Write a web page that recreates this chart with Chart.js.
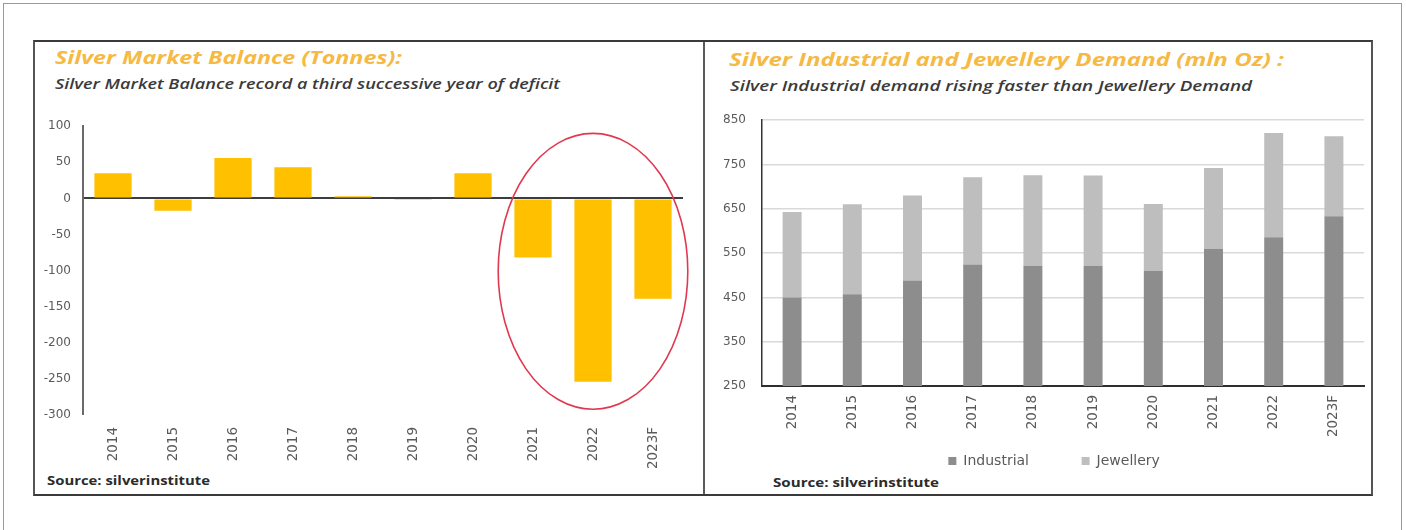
<!DOCTYPE html>
<html>
<head>
<meta charset="utf-8">
<script src="https://cdn.jsdelivr.net/npm/chart.js@4.4.1/dist/chart.umd.min.js"></script>
<style>
  html, body { margin: 0; padding: 0; background: #ffffff; }
  body { width: 1406px; height: 530px; position: relative; overflow: hidden; }
  .card { position: absolute; left: 3px; top: 3px; width: 1399px; height: 540px; border: 1px solid #9a9a9a; box-sizing: border-box; }
  .frame { position: absolute; left: 33px; top: 40px; width: 1340px; height: 456px; border: 2px solid #3a3a3a; border-left-color: #555; border-right-color: #555; box-sizing: border-box; }
  .divider { position: absolute; left: 703px; top: 42px; width: 2px; height: 452px; background: #5a5a5a; }
  .title { position: absolute; font-family: "Open Sans", sans-serif; font-style: italic; font-weight: 700; color: #f6b944; font-size: 18px; white-space: nowrap; transform-origin: 0 0; }
  .subtitle { position: absolute; font-family: "Open Sans", sans-serif; font-style: italic; font-weight: 600; color: #3a3a3a; font-size: 14px; white-space: nowrap; transform-origin: 0 0; }
  .source { position: absolute; font-family: "Open Sans", sans-serif; font-weight: 700; color: #2b2b2b; font-size: 13px; white-space: nowrap; transform-origin: 0 0; }
  canvas { position: absolute; }
</style>
</head>
<body>
<div class="card"></div>
<div class="frame"></div>
<div class="divider"></div>

<div class="title" data-w="347" style="left:55px; top:45px;">Silver Market Balance (Tonnes):</div>
<div class="subtitle" data-w="505" style="left:55px; top:74px;">Silver Market Balance record a third successive year of deficit</div>
<div class="source" data-w="163" style="left:47px; top:471px;">Source: silverinstitute</div>

<div class="title" data-w="555" style="left:729px; top:47px;">Silver Industrial and Jewellery Demand (mln Oz) :</div>
<div class="subtitle" data-w="522" style="left:730px; top:76px;">Silver Industrial demand rising faster than Jewellery Demand</div>
<div class="source" data-w="166" style="left:773px; top:473px;">Source: silverinstitute</div>

<canvas id="balance" width="665" height="366" style="left:40px; top:107px;"></canvas>
<canvas id="demand" width="680" height="381" style="left:712px; top:97px;"></canvas>

<script>
// Years shown on both charts
const years = ['2014', '2015', '2016', '2017', '2018', '2019', '2020', '2021', '2022', '2023F'];

// Silver market balance, tonnes
const marketBalance = [35, -17, 56, 43, 3, -1, 35, -82, -254, -139];
const balanceMin = -300;
const balanceMax = 100;
const balanceStep = 50;

// Demand, million ounces
const industrialDemand = [450, 457, 488, 524, 521, 521, 510, 560, 586, 633];
const jewelleryDemand = [193, 203, 192, 197, 205, 204, 151, 182, 235, 181];
const demandMin = 250;
const demandMax = 850;
const demandStep = 100;

// Highlight ring around the deficit years (category indices and value span)
const ringFrom = 7;
const ringTo = 9;
const ringTop = 90;
const ringBottom = -292;

// Stretch the heading lines to their set widths
document.querySelectorAll('[data-w]').forEach(el => {
  const w = el.getBoundingClientRect().width;
  el.style.transform = 'scaleX(' + (Number(el.dataset.w) / w) + ')';
});

const tickFont = { family: '"DejaVu Sans", sans-serif', size: 12 };
const catFont = { family: '"DejaVu Sans", sans-serif', size: 13.5 };
const tickColor = '#5a5a5a';

const deficitRing = {
  id: 'deficitRing',
  afterDatasetsDraw(chart) {
    const xs = chart.scales.x, ys = chart.scales.y;
    const a = xs.getPixelForValue(ringFrom);
    const b = xs.getPixelForValue(ringTo);
    const slot = (xs.right - xs.left) / years.length;
    const cx = (a + b) / 2;
    const rx = (b - a) / 2 + slot * 0.58;
    const top = ys.getPixelForValue(ringTop);
    const bottom = ys.getPixelForValue(ringBottom);
    const ctx = chart.ctx;
    ctx.save();
    ctx.beginPath();
    ctx.ellipse(cx, (top + bottom) / 2, rx, (bottom - top) / 2, 0, 0, Math.PI * 2);
    ctx.strokeStyle = '#e0394f';
    ctx.lineWidth = 1.6;
    ctx.stroke();
    ctx.restore();
  }
};

new Chart(document.getElementById('balance'), {
  type: 'bar',
  data: {
    labels: years,
    datasets: [{
      label: 'Market Balance',
      data: marketBalance,
      backgroundColor: '#ffc000',
      borderWidth: 0,
      barPercentage: 0.62,
      categoryPercentage: 1
    }]
  },
  options: {
    responsive: false,
    animation: false,
    layout: { padding: { top: 15, right: 22, left: 0, bottom: 0 } },
    plugins: { legend: { display: false }, tooltip: { enabled: false } },
    scales: {
      x: {
        grid: { display: false, drawTicks: false },
        border: { display: false },
        ticks: { font: catFont, color: tickColor, minRotation: 90, maxRotation: 90, padding: 12, autoSkip: false },
        afterFit(s) { s.height = 58; }
      },
      y: {
        min: balanceMin,
        max: balanceMax,
        grid: {
          drawTicks: false,
          color: c => c.tick.value === 0 ? '#3d3d3d' : 'rgba(0,0,0,0)',
          lineWidth: c => c.tick.value === 0 ? 2 : 0
        },
        border: { display: true, color: '#6a6a6a', width: 2 },
        ticks: { stepSize: balanceStep, font: tickFont, color: tickColor, padding: 12 },
        afterFit(s) { s.width = 43; }
      }
    }
  },
  plugins: [deficitRing]
});

// Legend entries: a wide gap after the first one, a short tail after the last
const legendGap = '\u00a0'.repeat(8);
const legendTail = '\u00a0'.repeat(4);
const baseLabels = Chart.defaults.plugins.legend.labels.generateLabels;

new Chart(document.getElementById('demand'), {
  type: 'bar',
  data: {
    labels: years,
    datasets: [{
      label: 'Industrial',
      data: industrialDemand,
      backgroundColor: '#8d8d8d',
      borderWidth: 0,
      barPercentage: 0.315,
      categoryPercentage: 1
    }, {
      label: 'Jewellery',
      data: jewelleryDemand,
      backgroundColor: '#bebebe',
      borderWidth: 0,
      barPercentage: 0.315,
      categoryPercentage: 1
    }]
  },
  options: {
    responsive: false,
    animation: false,
    layout: { padding: { top: 15, right: 28, left: 0, bottom: 0 } },
    plugins: {
      tooltip: { enabled: false },
      legend: {
        position: 'bottom',
        fullSize: false,
        labels: {
          font: { family: '"DejaVu Sans", sans-serif', size: 14 },
          color: '#5a5a5a',
          boxWidth: 8,
          boxHeight: 8,
          padding: 17,
          generateLabels(chart) {
            const items = baseLabels(chart);
            items.forEach((it, i) => { it.text += (i < items.length - 1) ? legendGap : legendTail; });
            return items;
          }
        }
      }
    },
    scales: {
      x: {
        stacked: true,
        grid: { display: false, drawTicks: false },
        border: { display: true, color: '#2e2e2e', width: 2 },
        ticks: { font: catFont, color: tickColor, minRotation: 90, maxRotation: 90, padding: 9, autoSkip: false },
        afterFit(s) { s.height = 51; }
      },
      y: {
        stacked: true,
        min: demandMin,
        max: demandMax,
        grid: {
          drawTicks: false,
          color: c => c.tick.value === demandMin ? 'rgba(0,0,0,0)' : '#d9d9d9',
          lineWidth: 1.5
        },
        border: { display: true, color: '#333333', width: 1.5 },
        ticks: { stepSize: demandStep, font: tickFont, color: tickColor, padding: 16 },
        afterFit(s) { s.width = 50; }
      }
    }
  }
});
</script>
</body>
</html>
